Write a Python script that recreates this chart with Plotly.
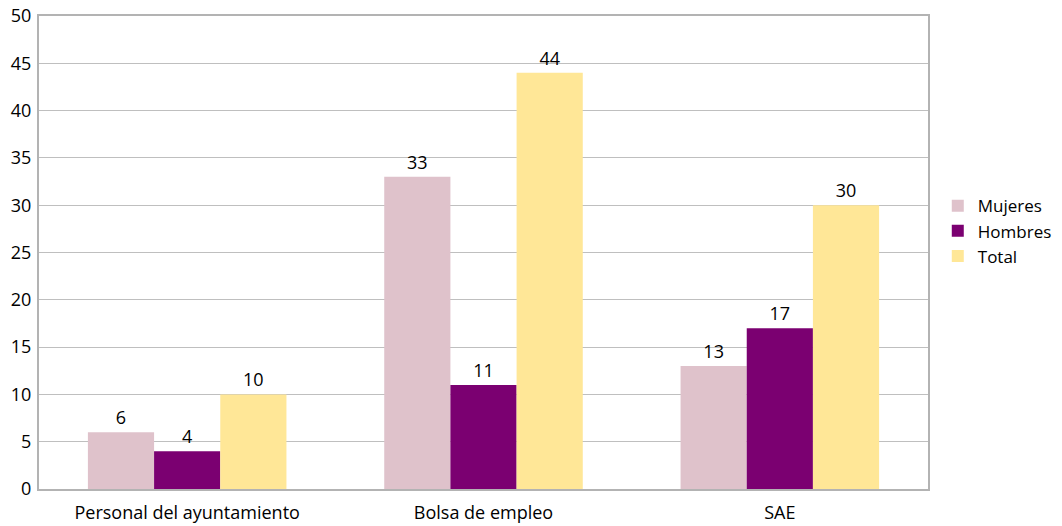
import plotly.graph_objects as go

categories = ["Personal del ayuntamiento", "Bolsa de empleo", "SAE"]
mujeres = [6, 33, 13]
hombres = [4, 11, 17]
total = [10, 44, 30]

series = [("Mujeres", mujeres, "#DFC2CB"), ("Hombres", hombres, "#7B0071"), ("Total", total, "#FFE797")]

fig = go.Figure()
for name, vals, col in series:
    fig.add_trace(go.Bar(
        name=name, x=categories, y=vals, marker_color=col, marker_line_width=0,
        text=[str(v) for v in vals], textposition="outside", cliponaxis=False,
        textfont=dict(size=18, color="#000000"),
    ))

fig.update_layout(
    width=1062, height=526,
    margin=dict(l=39, r=134, t=16, b=37, autoexpand=False),
    paper_bgcolor="white", plot_bgcolor="white",
    font=dict(family="Open Sans, sans-serif", size=18, color="#000000"),
    barmode="group", bargap=0.33, bargroupgap=0,
    legend=dict(x=1.011, y=0.545, xanchor="left", yanchor="middle",
                font=dict(size=17), itemwidth=30, tracegroupgap=0,
                bgcolor="rgba(0,0,0,0)"),
    showlegend=True,
)
fig.update_xaxes(showline=True, linecolor="#B3B3B3", linewidth=2, mirror=True,
                 ticks="", tickfont=dict(size=18), automargin=False,
                 ticklabelstandoff=6, ticklabeloverflow="allow")
fig.update_yaxes(range=[0, 50], dtick=5, showgrid=True, gridcolor="#BFBFBF", gridwidth=1,
                 showline=True, linecolor="#B3B3B3", linewidth=2, mirror=True,
                 ticks="", tickfont=dict(size=18), zeroline=False, automargin=False,
                 ticklabelstandoff=2, ticklabeloverflow="allow")

fig.write_html("out.html", config={"displayModeBar": False},
               post_script="document.body.style.margin='0';")
